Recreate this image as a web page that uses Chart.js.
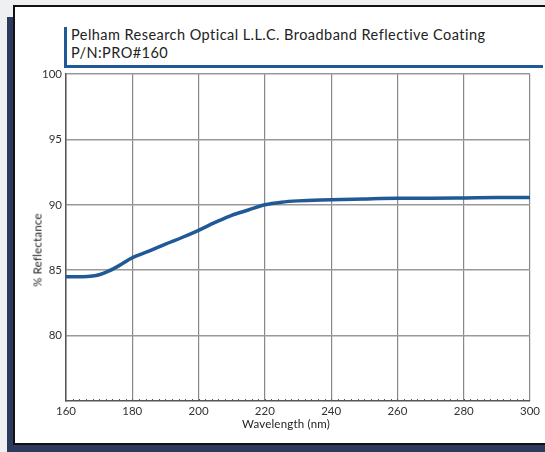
<!DOCTYPE html>
<html>
<head>
<meta charset="utf-8">
<script src="https://cdn.jsdelivr.net/npm/chart.js@4"></script>
<style>
    html, body { margin: 0; padding: 0; }
    body { width: 545px; height: 452px; background: #eef0f2; position: relative; overflow: hidden; font-family: "Lato", sans-serif; }
    #shade { position: absolute; left: 7px; top: 17px; width: 545px; height: 440px; background: #2c3a5e; }
    #panel { position: absolute; left: 13px; top: 5px; width: 540px; height: 436px; background: #fff; border: 2px solid #111; }
    #title { position: absolute; left: 64px; top: 27px; width: 476px; height: 38px; border-left: 3px solid #1f5a96; border-bottom: 3px solid #1f5a96; }
    #title div { position: absolute; left: 4px; font-size: 14.5px; color: #222; white-space: nowrap; letter-spacing: 0.45px; }
    #chartWrap { position: absolute; left: 0; top: 0; width: 545px; height: 452px; }
    .axisTitle { position: absolute; font-size: 11.5px; color: #222; white-space: nowrap; letter-spacing: 0.2px; }
    #xTitle { left: 286px; top: 417px; transform: translateX(-50%); }
    #yTitle { left: 37px; top: 250px; transform: translate(-50%, -50%) rotate(-90deg); }
</style>
</head>
<body>
<div id="shade"></div>
<div id="panel"></div>
<div id="title">
    <div style="top: -1px;">Pelham Research Optical L.L.C. Broadband Reflective Coating</div>
    <div style="top: 17px;">P/N:PRO#160</div>
</div>
<div id="chartWrap"><canvas id="chart" width="545" height="452"></canvas></div>
<div class="axisTitle" id="xTitle">Wavelength (nm)</div>
<div class="axisTitle" id="yTitle">% Reflectance</div>
<script>
let wavelength = [160, 165, 168, 170, 173, 176, 180, 185, 190, 195, 200, 205, 210, 215, 220, 225, 230, 240, 250, 260, 270, 280, 290, 300];
let reflectance = [84.5, 84.5, 84.55, 84.65, 84.95, 85.35, 85.95, 86.45, 87.0, 87.5, 88.05, 88.65, 89.2, 89.6, 90.0, 90.2, 90.3, 90.38, 90.45, 90.5, 90.5, 90.52, 90.55, 90.55];
let xTicks = [160, 180, 200, 220, 240, 260, 280, 300];
let yTicks = [80, 85, 90, 95, 100];

let points = wavelength.map(function (w, i) { return { x: w, y: reflectance[i] }; });

// small dotted ticks along the bottom axis
let minorTicks = {
    id: "minorTicks",
    afterDraw: function (chart) {
        let ctx = chart.ctx;
        let xs = chart.scales.x;
        let bottom = chart.chartArea.bottom;
        ctx.save();
        ctx.strokeStyle = "#555";
        ctx.lineWidth = 1;
        for (let v = 162; v < 300; v += 2) {
            let px = Math.round(xs.getPixelForValue(v)) + 0.5;
            ctx.beginPath();
            ctx.moveTo(px, bottom - 2);
            ctx.lineTo(px, bottom);
            ctx.stroke();
        }
        ctx.restore();
    }
};

new Chart(document.getElementById("chart").getContext("2d"), {
    type: "line",
    data: {
        datasets: [{
            data: points,
            borderColor: "#1f5a96",
            borderWidth: 3.5,
            pointRadius: 0,
            fill: false,
            cubicInterpolationMode: "monotone"
        }]
    },
    options: {
        animation: false,
        responsive: false,
        layout: { padding: { top: 74, right: 15, left: 0, bottom: 0 } },
        scales: {
            x: {
                type: "linear",
                min: 160,
                max: 300,
                afterBuildTicks: function (axis) { axis.ticks = xTicks.map(function (v) { return { value: v }; }); },
                afterFit: function (axis) { axis.height = 51; },
                grid: { color: "#888", lineWidth: 1.2, drawTicks: false },
                border: { color: "#555", width: 1.5 },
                ticks: { color: "#333", padding: 3, font: { family: "Lato", size: 11.5 } }
            },
            y: {
                min: 75,
                max: 100,
                afterBuildTicks: function (axis) { axis.ticks = yTicks.map(function (v) { return { value: v }; }); },
                afterFit: function (axis) { axis.width = 66; },
                grid: { color: "#999", lineWidth: 1.5, drawTicks: false },
                border: { color: "#555", width: 1.5 },
                ticks: { color: "#333", padding: 4, font: { family: "Lato", size: 11.5 } }
            }
        },
        plugins: {
            legend: { display: false },
            tooltip: { enabled: false }
        }
    },
    plugins: [minorTicks]
});
</script>
</body>
</html>
